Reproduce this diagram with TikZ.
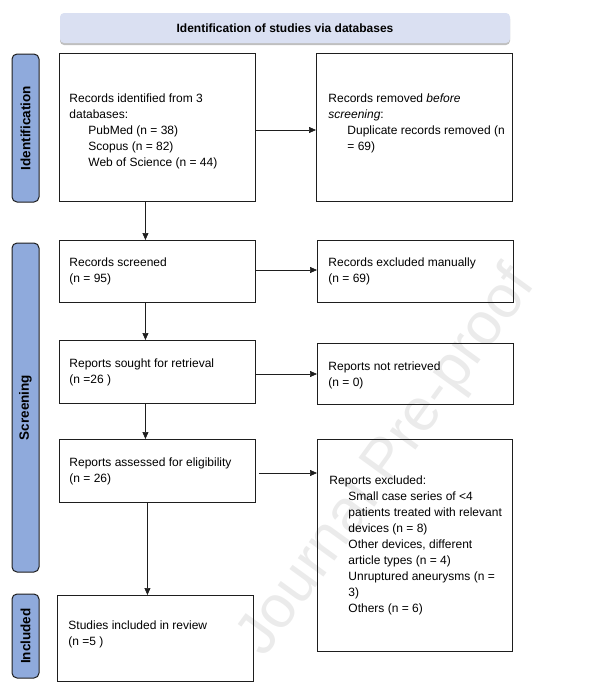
\documentclass[tikz,border=0pt]{standalone}
\usepackage{fontspec}
\setmainfont{Liberation Sans}
\usetikzlibrary{arrows.meta,shadows}
\definecolor{barblue}{HTML}{8FAADC}
\definecolor{headfill}{HTML}{DAE0F2}
\definecolor{edge}{HTML}{1E1E1E}
\definecolor{wmgray}{HTML}{EBEBEB}
\newcommand{\boxtxt}[2]{\makebox[#1][l]{\begin{tabular}{@{}l@{}}#2\end{tabular}}}
\newcommand{\shifttxt}[2]{\raisebox{#1}[\height][\depth]{#2}}
\newcommand{\ind}{\hspace*{19pt}}
\begin{document}
\begin{tikzpicture}[x=1pt,y=-1pt,
  box/.style={draw=edge, line width=0.9pt, anchor=north west, inner sep=0pt,
    font=\fontsize{12}{16}\selectfont},
  bar/.style={draw=edge, line width=1pt, fill=barblue, rounded corners=5pt,
    rotate=90, minimum height=27pt, inner sep=0pt,
    font=\bfseries\fontsize{13.5}{16}\selectfont},
  arr/.style={-{Triangle[length=7pt,width=6pt]}, line width=0.7pt, draw=edge},
  header/.style={fill=headfill, rounded corners=4pt, minimum width=450pt,
    minimum height=30pt, inner sep=0pt,
    drop shadow={shadow xshift=0pt, shadow yshift=-2pt, fill=black, opacity=0.25},
    font=\bfseries\fontsize{12}{15}\selectfont},
  watermark/.style={rotate=54, text=wmgray, inner sep=0pt,
    font=\fontsize{60}{60}\selectfont}
]
\useasboundingbox (0,0) rectangle (594,689);

\node[watermark] (wm) at (388,462) {Journal Pre-proof};

\node[header] (hd) at (285,28) {Identification of studies via databases};

\node[bar, minimum width=148pt] (sb1) at (25.5,128) {Identification};
\node[bar, minimum width=329pt] (sb2) at (25.5,407.5) {Screening};
\node[bar, minimum width=84pt] (sb3) at (25.5,636) {Included};

\node[box, minimum width=196pt, minimum height=148pt] (b1) at (59,53)
  {\shifttxt{-4pt}{\boxtxt{176pt}{Records identified from 3\\ databases:\\ \ind PubMed (n = 38)\\ \ind Scopus (n = 82)\\ \ind Web of Science (n = 44)}}};
\node[box, minimum width=196pt, minimum height=148pt] (b2) at (316,53)
  {\shifttxt{4pt}{\boxtxt{172pt}{Records removed \textit{before}\\ \textit{screening}:\\ \ind Duplicate records removed (n\\ \ind = 69)}}};

\node[box, minimum width=196pt, minimum height=62pt] (b3) at (59,240)
  {\boxtxt{176pt}{Records screened\\ (n = 95)}};
\node[box, minimum width=196pt, minimum height=62pt] (b4) at (317,240)
  {\boxtxt{174pt}{Records excluded manually\\ (n = 69)}};

\node[box, minimum width=196pt, minimum height=63pt] (b5) at (59,340)
  {\boxtxt{176pt}{Reports sought for retrieval\\ (n =26 )}};
\node[box, minimum width=196pt, minimum height=61pt] (b6) at (317,343)
  {\shifttxt{-1pt}{\boxtxt{174pt}{Reports not retrieved\\ (n = 0)}}};

\node[box, minimum width=196pt, minimum height=63pt] (b7) at (59,439)
  {\boxtxt{176pt}{Reports assessed for eligibility\\ (n = 26)}};
\node[box, minimum width=195pt, minimum height=212pt] (b8) at (317,439)
  {\boxtxt{171pt}{Reports excluded:\\ \ind Small case series of <4\\ \ind patients treated with relevant\\ \ind devices (n = 8)\\ \ind Other devices, different\\ \ind article types (n = 4)\\ \ind Unruptured aneurysms (n =\\ \ind 3)\\ \ind Others (n = 6)}};

\node[box, minimum width=196pt, minimum height=86pt] (b9) at (57,595)
  {\shifttxt{4pt}{\boxtxt{174pt}{Studies included in review\\ (n =5 )}}};

\draw[arr] ([xshift=-12pt]b1.south) -- ([xshift=-12pt]b1.south |- b3.north);
\draw[arr] ([xshift=-12pt]b3.south) -- ([xshift=-12pt]b3.south |- b5.north);
\draw[arr] ([xshift=-12pt]b5.south) -- ([xshift=-12pt]b5.south |- b7.north);
\draw[arr] ([xshift=-10pt]b7.south) -- ([xshift=-10pt]b7.south |- b9.north);

\draw[arr] (b1.east |- 0,130) -- (b2.west |- 0,130);
\draw[arr] (b3.east |- 0,270) -- (b4.west |- 0,270);
\draw[arr] (b5.east |- 0,374) -- (b6.west |- 0,374);
\draw[arr] ([xshift=3pt]b7.east |- 0,473) -- (b8.west |- 0,473);
\end{tikzpicture}
\end{document}
